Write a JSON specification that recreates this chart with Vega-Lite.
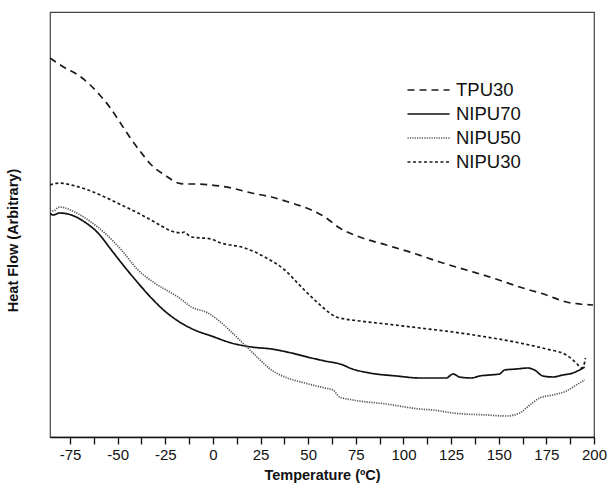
{
  "$schema": "https://vega.github.io/schema/vega-lite/v6.json",
  "autosize": "none",
  "width": 544,
  "height": 425,
  "padding": {"left": 50, "top": 12, "right": 14, "bottom": 50},
  "config": {
    "font": "Liberation Sans",
    "view": {"stroke": "#444", "strokeWidth": 1.2},
    "background": "white",
    "legend": {
      "title": null,
      "orient": "none",
      "legendX": 367,
      "legendY": 66.5,
      "padding": 0,
      "symbolType": "M-2,0H2",
      "symbolSize": 441,
      "labelFontSize": 18.5,
      "labelColor": "#111",
      "labelOffset": 16,
      "rowPadding": 3
    }
  },
  "data": {
    "values": [
      {"series": "TPU30", "t": -85.5, "h": 379},
      {"series": "TPU30", "t": -77.5, "h": 369},
      {"series": "TPU30", "t": -70.8, "h": 362},
      {"series": "TPU30", "t": -65.5, "h": 354},
      {"series": "TPU30", "t": -59.4, "h": 342},
      {"series": "TPU30", "t": -54.2, "h": 330},
      {"series": "TPU30", "t": -48.9, "h": 315},
      {"series": "TPU30", "t": -43.7, "h": 300},
      {"series": "TPU30", "t": -37.5, "h": 284},
      {"series": "TPU30", "t": -32.3, "h": 272},
      {"series": "TPU30", "t": -25.3, "h": 262},
      {"series": "TPU30", "t": -18.3, "h": 254},
      {"series": "TPU30", "t": -14.8, "h": 253},
      {"series": "TPU30", "t": -7.8, "h": 253},
      {"series": "TPU30", "t": -0.8, "h": 252},
      {"series": "TPU30", "t": 9.7, "h": 249},
      {"series": "TPU30", "t": 20.2, "h": 244},
      {"series": "TPU30", "t": 30.7, "h": 240},
      {"series": "TPU30", "t": 41.2, "h": 234},
      {"series": "TPU30", "t": 51.7, "h": 227},
      {"series": "TPU30", "t": 58.7, "h": 220},
      {"series": "TPU30", "t": 66.5, "h": 209},
      {"series": "TPU30", "t": 77.0, "h": 200},
      {"series": "TPU30", "t": 91.0, "h": 192},
      {"series": "TPU30", "t": 105.0, "h": 184},
      {"series": "TPU30", "t": 119.0, "h": 175},
      {"series": "TPU30", "t": 133.0, "h": 167},
      {"series": "TPU30", "t": 147.0, "h": 159},
      {"series": "TPU30", "t": 161.0, "h": 150},
      {"series": "TPU30", "t": 175.0, "h": 142},
      {"series": "TPU30", "t": 185.5, "h": 135},
      {"series": "TPU30", "t": 192.5, "h": 133},
      {"series": "TPU30", "t": 199.5, "h": 132},

      {"series": "NIPU70", "t": -85.5, "h": 224},
      {"series": "NIPU70", "t": -83.9, "h": 222},
      {"series": "NIPU70", "t": -80.4, "h": 224},
      {"series": "NIPU70", "t": -74.3, "h": 222},
      {"series": "NIPU70", "t": -67.3, "h": 215},
      {"series": "NIPU70", "t": -60.3, "h": 204},
      {"series": "NIPU70", "t": -53.3, "h": 187},
      {"series": "NIPU70", "t": -46.3, "h": 170},
      {"series": "NIPU70", "t": -39.3, "h": 154},
      {"series": "NIPU70", "t": -32.3, "h": 139},
      {"series": "NIPU70", "t": -25.3, "h": 126},
      {"series": "NIPU70", "t": -18.3, "h": 116},
      {"series": "NIPU70", "t": -9.6, "h": 107},
      {"series": "NIPU70", "t": -0.8, "h": 101},
      {"series": "NIPU70", "t": 9.7, "h": 94},
      {"series": "NIPU70", "t": 20.2, "h": 90},
      {"series": "NIPU70", "t": 30.7, "h": 88},
      {"series": "NIPU70", "t": 41.2, "h": 84},
      {"series": "NIPU70", "t": 51.7, "h": 79},
      {"series": "NIPU70", "t": 58.7, "h": 76},
      {"series": "NIPU70", "t": 68.3, "h": 72},
      {"series": "NIPU70", "t": 71.8, "h": 69},
      {"series": "NIPU70", "t": 82.3, "h": 64},
      {"series": "NIPU70", "t": 96.3, "h": 61},
      {"series": "NIPU70", "t": 108.5, "h": 59},
      {"series": "NIPU70", "t": 122.5, "h": 59},
      {"series": "NIPU70", "t": 126.0, "h": 63},
      {"series": "NIPU70", "t": 129.5, "h": 60},
      {"series": "NIPU70", "t": 135.6, "h": 59},
      {"series": "NIPU70", "t": 139.9, "h": 61},
      {"series": "NIPU70", "t": 145.2, "h": 62},
      {"series": "NIPU70", "t": 150.4, "h": 63},
      {"series": "NIPU70", "t": 153.1, "h": 67},
      {"series": "NIPU70", "t": 159.2, "h": 68},
      {"series": "NIPU70", "t": 165.3, "h": 69},
      {"series": "NIPU70", "t": 168.8, "h": 67},
      {"series": "NIPU70", "t": 173.2, "h": 61},
      {"series": "NIPU70", "t": 178.4, "h": 60},
      {"series": "NIPU70", "t": 183.7, "h": 62},
      {"series": "NIPU70", "t": 188.9, "h": 64},
      {"series": "NIPU70", "t": 195.1, "h": 70},

      {"series": "NIPU50", "t": -85.5, "h": 227},
      {"series": "NIPU50", "t": -83.9, "h": 226},
      {"series": "NIPU50", "t": -80.4, "h": 230},
      {"series": "NIPU50", "t": -72.5, "h": 225},
      {"series": "NIPU50", "t": -65.5, "h": 217},
      {"series": "NIPU50", "t": -56.8, "h": 204},
      {"series": "NIPU50", "t": -48.0, "h": 187},
      {"series": "NIPU50", "t": -39.3, "h": 167},
      {"series": "NIPU50", "t": -30.6, "h": 154},
      {"series": "NIPU50", "t": -21.8, "h": 144},
      {"series": "NIPU50", "t": -18.3, "h": 140},
      {"series": "NIPU50", "t": -11.3, "h": 130},
      {"series": "NIPU50", "t": -2.6, "h": 124},
      {"series": "NIPU50", "t": 2.7, "h": 117},
      {"series": "NIPU50", "t": 9.7, "h": 105},
      {"series": "NIPU50", "t": 16.7, "h": 92},
      {"series": "NIPU50", "t": 23.7, "h": 79},
      {"series": "NIPU50", "t": 30.7, "h": 67},
      {"series": "NIPU50", "t": 37.7, "h": 60},
      {"series": "NIPU50", "t": 48.2, "h": 54},
      {"series": "NIPU50", "t": 58.7, "h": 49},
      {"series": "NIPU50", "t": 63.0, "h": 47},
      {"series": "NIPU50", "t": 66.5, "h": 40},
      {"series": "NIPU50", "t": 73.5, "h": 37},
      {"series": "NIPU50", "t": 91.0, "h": 33},
      {"series": "NIPU50", "t": 108.5, "h": 28},
      {"series": "NIPU50", "t": 115.5, "h": 27},
      {"series": "NIPU50", "t": 126.0, "h": 24},
      {"series": "NIPU50", "t": 143.5, "h": 22},
      {"series": "NIPU50", "t": 154.0, "h": 21},
      {"series": "NIPU50", "t": 161.0, "h": 24},
      {"series": "NIPU50", "t": 166.3, "h": 32},
      {"series": "NIPU50", "t": 171.5, "h": 39},
      {"series": "NIPU50", "t": 178.4, "h": 42},
      {"series": "NIPU50", "t": 185.5, "h": 46},
      {"series": "NIPU50", "t": 190.7, "h": 52},
      {"series": "NIPU50", "t": 195.1, "h": 57},

      {"series": "NIPU30", "t": -85.5, "h": 252},
      {"series": "NIPU30", "t": -80.4, "h": 254},
      {"series": "NIPU30", "t": -74.3, "h": 252},
      {"series": "NIPU30", "t": -65.5, "h": 247},
      {"series": "NIPU30", "t": -56.8, "h": 240},
      {"series": "NIPU30", "t": -48.0, "h": 232},
      {"series": "NIPU30", "t": -39.3, "h": 224},
      {"series": "NIPU30", "t": -30.6, "h": 215},
      {"series": "NIPU30", "t": -21.8, "h": 206},
      {"series": "NIPU30", "t": -16.5, "h": 204},
      {"series": "NIPU30", "t": -15.2, "h": 205},
      {"series": "NIPU30", "t": -11.3, "h": 200},
      {"series": "NIPU30", "t": -0.8, "h": 198},
      {"series": "NIPU30", "t": 2.7, "h": 195},
      {"series": "NIPU30", "t": 16.7, "h": 189},
      {"series": "NIPU30", "t": 27.2, "h": 180},
      {"series": "NIPU30", "t": 37.7, "h": 167},
      {"series": "NIPU30", "t": 46.4, "h": 150},
      {"series": "NIPU30", "t": 53.4, "h": 137},
      {"series": "NIPU30", "t": 58.7, "h": 128},
      {"series": "NIPU30", "t": 61.3, "h": 124},
      {"series": "NIPU30", "t": 64.8, "h": 120},
      {"series": "NIPU30", "t": 77.0, "h": 116},
      {"series": "NIPU30", "t": 91.0, "h": 113},
      {"series": "NIPU30", "t": 108.5, "h": 109},
      {"series": "NIPU30", "t": 126.0, "h": 105},
      {"series": "NIPU30", "t": 143.5, "h": 100},
      {"series": "NIPU30", "t": 161.0, "h": 94},
      {"series": "NIPU30", "t": 175.0, "h": 88},
      {"series": "NIPU30", "t": 185.5, "h": 82},
      {"series": "NIPU30", "t": 190.7, "h": 74},
      {"series": "NIPU30", "t": 193.4, "h": 69},
      {"series": "NIPU30", "t": 194.7, "h": 72},
      {"series": "NIPU30", "t": 195.5, "h": 79}
    ]
  },
  "mark": {"type": "line", "interpolate": "monotone", "clip": true},
  "encoding": {
    "x": {
      "field": "t",
      "type": "quantitative",
      "scale": {"domain": [-85.5, 200], "nice": false, "zero": false},
      "axis": {
        "title": "Temperature (ºC)",
        "values": [-75, -62.5, -50, -37.5, -25, -12.5, 0, 12.5, 25, 37.5, 50, 62.5, 75, 87.5, 100, 112.5, 125, 137.5, 150, 162.5, 175, 187.5, 200],
        "labelExpr": "datum.value % 25 === 0 ? datum.value : ''",
        "grid": false,
        "domainColor": "#111",
        "domainWidth": 1.3,
        "tickColor": "#111",
        "tickWidth": 1.3,
        "tickSize": 7,
        "labelFontSize": 15,
        "labelColor": "#111",
        "labelPadding": 3,
        "labelFlush": false,
        "titleFontSize": 14.5,
        "titleFontWeight": "bold",
        "titleColor": "#111",
        "titlePadding": 6,
        "encode": {
          "ticks": {"update": {"y2": {"signal": "datum.value % 25 === 0 ? 7 : 5"}}}
        }
      }
    },
    "y": {
      "field": "h",
      "type": "quantitative",
      "scale": {"domain": [0, 425], "nice": false},
      "axis": {
        "title": "Heat Flow (Arbitrary)",
        "labels": false,
        "ticks": false,
        "grid": false,
        "domain": false,
        "titleFontSize": 14.5,
        "titleFontWeight": "bold",
        "titleColor": "#111",
        "titlePadding": 30,
        "titleY": 228
      }
    },
    "strokeDash": {
      "field": "series",
      "type": "nominal",
      "scale": {"domain": ["TPU30", "NIPU70", "NIPU50", "NIPU30"], "range": [[7, 5], [1, 0], [1.2, 1.2], [3, 2.5]]}
    },
    "strokeWidth": {
      "field": "series",
      "type": "nominal",
      "scale": {"domain": ["TPU30", "NIPU70", "NIPU50", "NIPU30"], "range": [1.7, 1.7, 1.2, 1.5]}
    },
    "color": {
      "field": "series",
      "type": "nominal",
      "scale": {"domain": ["TPU30", "NIPU70", "NIPU50", "NIPU30"], "range": ["#1a1a1a", "#111111", "#555555", "#1a1a1a"]}
    }
  }
}
